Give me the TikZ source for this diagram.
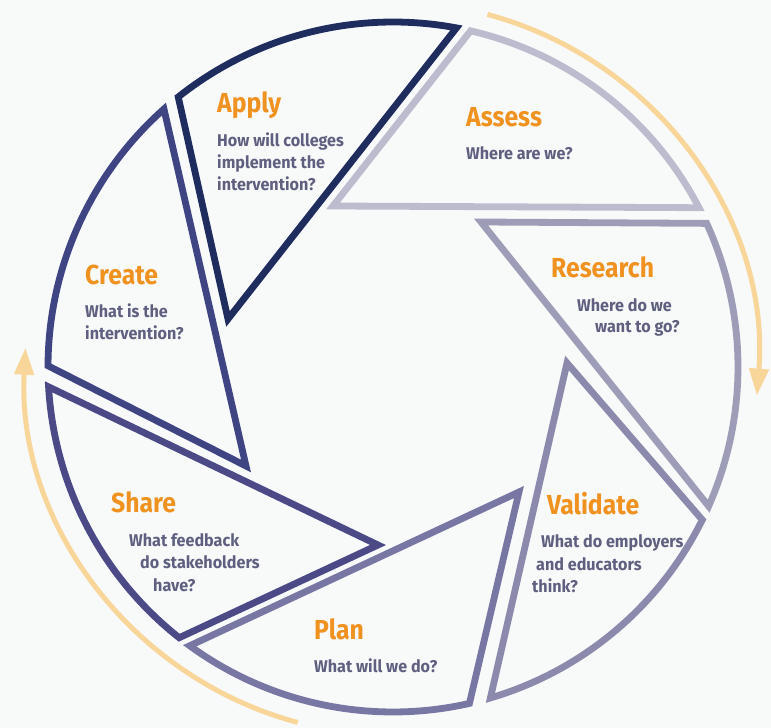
\documentclass[tikz,border=0pt]{standalone}
\usepackage{fontspec}
\setmainfont{Fira Sans}[FakeStretch=0.9]
\newfontfamily\subfont{Fira Sans}[FakeStretch=0.95]
\usetikzlibrary{arrows.meta,calc}
\definecolor{bg}{HTML}{F8F9F9}
\definecolor{cApply}{HTML}{1E2C5E}
\definecolor{cCreate}{HTML}{3F4583}
\definecolor{cShare}{HTML}{4B4A86}
\definecolor{cPlan}{HTML}{7876A3}
\definecolor{cValidate}{HTML}{8B8AAD}
\definecolor{cResearch}{HTML}{9E9DB8}
\definecolor{cAssess}{HTML}{BDBCCF}
\definecolor{ttl}{HTML}{F0921F}
\definecolor{sub}{HTML}{5F6080}
\definecolor{arr}{HTML}{F8D699}
\tikzset{
  blade/.style={line width=6.8pt, line join=miter, miter limit=20},
  ttlnode/.style={anchor=base west, inner sep=0pt, text=ttl, font=\fontsize{27.5}{30}\selectfont\bfseries},
  subnode/.style={anchor=base west, inner sep=0pt, text=sub, font=\subfont\fontsize{17}{20}\selectfont\bfseries},
  cyc/.style={draw=arr, line width=5pt, -{Triangle[length=27pt,width=19pt]}}
}
\begin{document}
\begin{tikzpicture}[x=1pt,y=1pt]
\fill[bg] (0,0) rectangle (771,728);
\useasboundingbox (0,0) rectangle (771,728);
\coordinate (C) at (393,361);
\def\R{345}
% blades
\draw[blade, cApply]    ($(C)+(128.5:\R)$) arc[start angle=128.5, end angle=79.4, radius=\R] -- (228,409) -- cycle;
\draw[blade, cAssess]   ($(C)+(77:\R)$) arc[start angle=77, end angle=27.5, radius=\R] -- (333,522) -- cycle;
\draw[blade, cResearch] ($(C)+(24.6:\R)$) arc[start angle=24.6, end angle=-23.8, radius=\R] -- (481,506) -- cycle;
\draw[blade, cValidate] ($(C)+(-26.3:\R)$) arc[start angle=-26.3, end angle=-73.6, radius=\R] -- (567,365) -- cycle;
\draw[blade, cPlan]     ($(C)+(-77.2:\R)$) arc[start angle=-77.2, end angle=-126.1, radius=\R] -- (519,236) -- cycle;
\draw[blade, cShare]    ($(C)+(-128.3:\R)$) arc[start angle=-128.3, end angle=-176.7, radius=\R] -- (378,183) -- cycle;
\draw[blade, cCreate]   ($(C)+(179.8:\R)$) arc[start angle=179.8, end angle=131.6, radius=\R] -- (246,262) -- cycle;
% cycle arrows
\draw[cyc] ($(C)+(75:365)$) arc[start angle=75, end angle=-4.5, radius=365];
\draw[cyc] ($(C)+(255:368)$) arc[start angle=255, end angle=177, radius=368];
% texts
\node[ttlnode] (tApply) at (217,615) {Apply};
\node[subnode] (sApply1) at (217,581) {How will colleges};
\node[subnode] (sApply2) at (217,559) {implement the};
\node[subnode] (sApply3) at (217,537) {intervention?};
\node[ttlnode] (tAssess) at (466,601) {Assess};
\node[subnode] (sAssess) at (466,568) {Where are we?};
\node[ttlnode] (tResearch) at (551,450) {Research};
\node[subnode] (sResearch1) at (577,416) {Where do we};
\node[subnode] (sResearch2) at (595,395) {want to go?};
\node[ttlnode] (tValidate) at (547,213) {Validate};
\node[subnode] (sValidate1) at (541,180) {What do employers};
\node[subnode] (sValidate2) at (536,157) {and educators};
\node[subnode] (sValidate3) at (532,135) {think?};
\node[ttlnode] (tPlan) at (314,88) {Plan};
\node[subnode] (sPlan) at (314,55) {What will we do?};
\node[ttlnode] (tShare) at (111,215) {Share};
\node[subnode] (sShare1) at (129,181) {What feedback};
\node[subnode] (sShare2) at (140,159) {do stakeholders};
\node[subnode] (sShare3) at (153,136) {have?};
\node[ttlnode] (tCreate) at (85,443) {Create};
\node[subnode] (sCreate1) at (85,410) {What is the};
\node[subnode] (sCreate2) at (85,388) {intervention?};
\end{tikzpicture}
\end{document}
